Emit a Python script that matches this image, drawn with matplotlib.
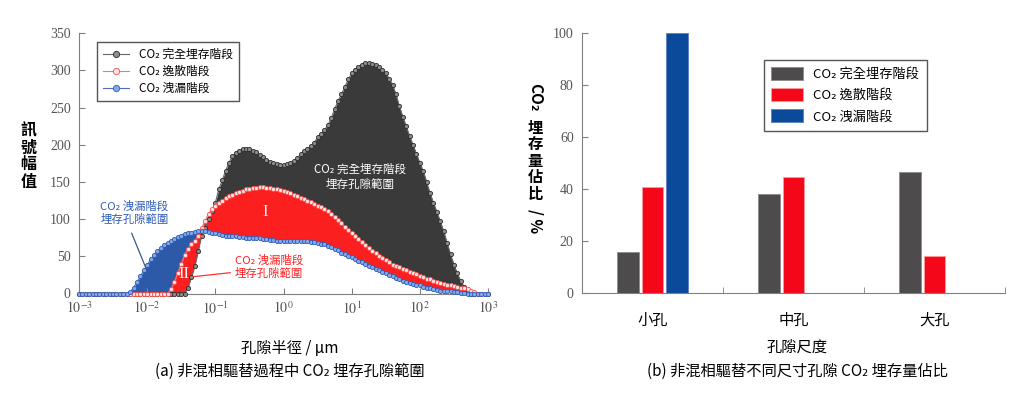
import numpy as np
import matplotlib
matplotlib.use('Agg')
import matplotlib.pyplot as plt

plt.rcParams['font.family'] = ['Noto Sans CJK TC', 'DejaVu Sans']
plt.rcParams['mathtext.fontset'] = 'stix'

# ---- (a) signal amplitude vs pore radius, sampled every 0.05 decade from 1e-3 to 1e3
log_r = np.linspace(-3, 3, 121)
radius = 10 ** log_r

full_store = [0] * 32 + [
    8, 22, 37, 57, 77, 88, 100, 111, 122, 140,
    152, 165, 176, 185, 189, 192, 194, 195, 194, 192,
    190, 186, 183, 180, 177, 175, 174, 173, 173, 174,
    175, 178, 182, 187, 192, 195, 198, 203, 210, 215,
    220, 226, 236, 248, 259, 268, 278, 288, 296, 301,
    305, 308, 310, 310, 309, 307, 305, 301, 296, 289,
    281, 268, 252, 238, 225, 212, 200, 188, 176, 165,
    150, 135, 122, 110, 97, 84, 68, 53, 39, 27,
    17, 9, 3, 0] + [0] * 5

escape = [0] * 26 + [
    0, 6, 16, 28, 40, 52, 60, 66, 71, 78,
    88, 98, 107, 113, 118, 122, 125, 128, 131, 133,
    135, 137, 138, 140, 141, 142, 142, 143, 143, 142,
    142, 141, 140, 139, 138, 136, 135, 133, 131, 129,
    127, 125, 123, 120, 118, 116, 114, 111, 107, 103,
    99, 95, 90, 85, 81, 77, 73, 69, 65, 61,
    57, 54, 51, 48, 45, 42, 39, 37, 35, 33,
    31, 29, 28, 26, 24, 22, 20, 19, 17, 16,
    14, 13, 12, 11, 10, 9, 8, 7, 6, 4,
    2, 0] + [0] * 3

leak = [0] * 15 + [
    2, 8, 15, 23, 31, 38, 46, 52, 57, 61,
    65, 68, 71, 73, 76, 78, 80, 81, 82, 83,
    84, 84, 84, 83, 82, 81, 80, 79, 78, 78,
    77, 77, 76, 76, 75, 75, 75, 74, 74, 73,
    73, 72, 72, 71, 71, 71, 71, 71, 71, 71,
    70, 70, 70, 69, 69, 68, 67, 66, 64, 62,
    60, 58, 55, 53, 51, 49, 46, 44, 42, 40,
    37, 35, 33, 31, 29, 27, 25, 23, 21, 19,
    17, 16, 14, 13, 12, 11, 9, 8, 7, 6,
    5, 4, 4, 3, 3, 2, 2, 1, 1] + [0] * 7

stage_names = ['CO₂ 完全埋存階段', 'CO₂ 逸散階段', 'CO₂ 洩漏階段']

# ---- (b) storage share per pore size
pore_classes = ['小孔', '中孔', '大孔']
share_full = [16.0, 38.2, 46.8]
share_escape = [41.0, 44.6, 14.3]
share_leak = [100.0, 0.0, 0.0]

fig = plt.figure(figsize=(10.24, 3.98), dpi=100)
W, H = 1024, 398
tick_gray = '#555555'
spine_gray = '#808080'

# ================= left panel =================
ax = fig.add_axes([79 / W, 1 - 293.5 / H, 409 / W, 260.2 / H])
blk = np.array(full_store, float)
red = np.array(escape, float)
blu = np.array(leak, float)

# each curve is filled down to the next curve below it
lo_blu = np.maximum(red, blk)
ax.fill_between(radius, lo_blu, blu, where=blu > lo_blu, interpolate=True,
                color='#2c5aa8', lw=0, zorder=1)
lo_red = np.where(red > blu, blu, blk)
ax.fill_between(radius, lo_red, red, where=red > lo_red, interpolate=True,
                color='#fb1f1f', lw=0, zorder=1)
lo_blk = np.maximum(red, blu)
ax.fill_between(radius, lo_blk, blk, where=blk > lo_blk, interpolate=True,
                color='#3a3a3a', lw=0, zorder=1)

ax.plot(radius, blk, '-o', color='#666666', lw=0.8, ms=3.0, mfc='#8c8c8c',
        mec='#2b2b2b', mew=0.6, clip_on=False, zorder=3, label=stage_names[0])
ax.plot(radius, red, '-o', color='#ff7070', lw=0.8, ms=3.0, mfc='#ffe4e4',
        mec='#ff4a4a', mew=0.6, clip_on=False, zorder=4, label=stage_names[1])
ax.plot(radius, blu, '-o', color='#4a6fc0', lw=0.8, ms=3.0, mfc='#86a8e8',
        mec='#2a5cb8', mew=0.6, clip_on=False, zorder=5, label=stage_names[2])

ax.set_xscale('log')
ax.set_xlim(1e-3, 1e3)
ax.set_ylim(0, 350)
ax.set_xticks([1e-3, 1e-2, 1e-1, 1e0, 1e1, 1e2, 1e3])
ax.set_xticklabels(['$10^{-3}$', '$10^{-2}$', '$10^{-1}$', '$10^{0}$',
                    '$10^{1}$', '$10^{2}$', '$10^{3}$'])
ax.xaxis.set_minor_locator(matplotlib.ticker.NullLocator())
ax.set_yticks(range(0, 351, 50))
for s in ['top', 'right']:
    ax.spines[s].set_visible(False)
for s in ['left', 'bottom']:
    ax.spines[s].set_color(spine_gray)
ax.tick_params(axis='both', direction='in', length=4, color=spine_gray,
               labelcolor=tick_gray, labelsize=10)
ax.tick_params(axis='y', pad=6)
ax.tick_params(axis='x', pad=5)
for t in ax.get_yticklabels():
    t.set_fontfamily('Liberation Serif')

leg = ax.legend(loc='upper left', bbox_to_anchor=(0.044, 0.967), borderaxespad=0,
                fontsize=8.5, markerscale=1.5, handlelength=2.2, handletextpad=0.9,
                fancybox=False, edgecolor='#555555', framealpha=1, labelspacing=0.35,
                borderpad=0.5)
leg.get_frame().set_linewidth(1.0)

ax.text(13.4, 157, 'CO₂ 完全埋存階段\n埋存孔隙範圍', color='white', fontsize=8.3,
        ha='center', va='center', linespacing=1.25, zorder=6)
ax.text(0.54, 110, 'I', color='white', fontsize=12, family='Liberation Serif',
        ha='center', va='center', zorder=6)
ax.text(0.034, 26, 'II', color='white', fontsize=12, family='Liberation Serif',
        ha='center', va='center', zorder=6)
ax.text(0.00205, 109, 'CO₂ 洩漏階段\n埋存孔隙範圍', color='#2e5cb8', fontsize=8.2,
        ha='left', va='center', linespacing=1.25, zorder=6)
ax.plot([0.00593, 0.00984], [81, 31.6], color='#3a5a8a', lw=0.9, zorder=6)
ax.text(0.195, 35.6, 'CO₂ 洩漏階段\n埋存孔隙範圍', color='#ff2020', fontsize=8.2,
        ha='left', va='center', linespacing=1.25, zorder=6)
ax.plot([0.0476, 0.165], [22.6, 28], color='#ff3030', lw=0.9, zorder=6)

# stacked vertical y label
for i, ch in enumerate('訊號幅值'):
    fig.text(28.5 / W, 1 - (130.5 + 17 * i) / H, ch, fontsize=11.5, fontweight='bold',
             ha='center', va='center')

fig.text(290 / W, 1 - 348 / H, '孔隙半徑 / μm', fontsize=11, ha='center', va='center')
fig.text(290 / W, 1 - 371.5 / H, '(a) 非混相驅替過程中 CO₂ 埋存孔隙範圍', fontsize=11,
         ha='center', va='center')

# ================= right panel =================
bx = fig.add_axes([582 / W, 1 - 293.3 / H, 423 / W, 260 / H])
pos = np.arange(len(pore_classes))
off, bw = 0.172, 0.156
bx.bar(pos - off, share_full, bw, color='#4d4b4c', edgecolor='#8a8a8a', lw=0.6,
       label=stage_names[0])
bx.bar(pos, share_escape, bw, color='#f5071a', edgecolor='#ff9a9a', lw=0.6,
       label=stage_names[1])
bx.bar(pos + off, share_leak, bw, color='#0b4a9b', edgecolor='#5a80c0', lw=0.6,
       label=stage_names[2])

bx.set_xlim(-0.5, 2.5)
bx.set_ylim(0, 100)
bx.set_xticks(pos)
bx.set_xticklabels(pore_classes, fontsize=11)
bx.set_xticks([0.5, 1.5, 2.5], minor=True)
bx.tick_params(axis='x', which='major', length=0, pad=13)
bx.tick_params(axis='x', which='minor', direction='in', length=4, color=spine_gray)
bx.set_yticks(range(0, 101, 20))
bx.tick_params(axis='y', direction='in', length=4, color=spine_gray,
               labelcolor=tick_gray, labelsize=10, pad=6)
for t in bx.get_yticklabels():
    t.set_fontfamily('Liberation Serif')
for s in ['top', 'right']:
    bx.spines[s].set_visible(False)
for s in ['left', 'bottom']:
    bx.spines[s].set_color(spine_gray)

leg2 = bx.legend(loc='upper left', bbox_to_anchor=(0.430, 0.897), borderaxespad=0,
                 fontsize=9.5, handlelength=2.4, handleheight=1.1, handletextpad=0.8,
                 fancybox=False, edgecolor='#555555', framealpha=1, labelspacing=0.55,
                 borderpad=0.55)
leg2.get_frame().set_linewidth(1.0)

# vertical y label: Latin parts rotated, CJK upright
fig.text(535 / W, 1 - 97 / H, 'CO₂', fontsize=11, fontweight='bold', rotation=-90,
         ha='center', va='center')
for i, ch in enumerate('埋存量佔比'):
    fig.text(535 / W, 1 - (127.5 + 16.6 * i) / H, ch, fontsize=11, fontweight='bold',
             ha='center', va='center')
fig.text(535 / W, 1 - 221 / H, '/ %', fontsize=11, fontweight='bold', rotation=-90,
         ha='center', va='center')

fig.text(797 / W, 1 - 347 / H, '孔隙尺度', fontsize=11, ha='center', va='center')
fig.text(797 / W, 1 - 371.5 / H, '(b) 非混相驅替不同尺寸孔隙 CO₂ 埋存量佔比', fontsize=11,
         ha='center', va='center')

fig.savefig('out.png', dpi=100)
